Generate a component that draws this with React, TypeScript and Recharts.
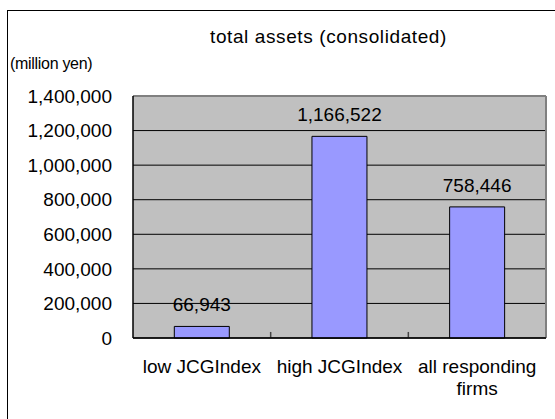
import React from "react";
import { BarChart, Bar, XAxis, YAxis, CartesianGrid, LabelList, ReferenceLine } from "recharts";

const categories = ["low JCGIndex", "high JCGIndex", "all responding firms"];
const totalAssets = [66943, 1166522, 758446];
const yTicks = [0, 200000, 400000, 600000, 800000, 1000000, 1200000, 1400000];

const data = categories.map((name, i) => ({ name, value: totalAssets[i] }));

const FONT = "'Liberation Sans', Arial, sans-serif";
const fmt = (v: any) => Number(v).toLocaleString("en-US");

// greedy word wrap by character count
const wrap = (s: string, max: number) => {
  const lines: string[] = [];
  let cur = "";
  s.split(" ").forEach((w) => {
    const next = cur ? cur + " " + w : w;
    if (next.length > max && cur) {
      lines.push(cur);
      cur = w;
    } else {
      cur = next;
    }
  });
  if (cur) lines.push(cur);
  return lines;
};

const CategoryTick = (props: any) => {
  const { x, y, payload } = props;
  const lines = wrap(String(payload.value), 15);
  return (
    <text x={x} y={y + 35} textAnchor="middle" fontSize={19} fontFamily={FONT} fill="#000">
      {lines.map((l, i) => (
        <tspan key={i} x={x} dy={i === 0 ? 0 : 22}>
          {l}
        </tspan>
      ))}
    </text>
  );
};

const App: React.FC = () => {
  const last = categories[categories.length - 1];
  return (
    <div style={{ position: "relative", width: 555, height: 419, overflow: "hidden", background: "#fff", fontFamily: FONT }}>
      <style>{"body{margin:0;overflow:hidden}"}</style>
      <div
        style={{
          position: "absolute",
          left: 7,
          top: 10,
          width: 600,
          height: 500,
          border: "1px solid #000",
        }}
      />
      <div style={{ position: "absolute", left: 0, width: 657, top: 26, textAlign: "center", fontSize: 19, letterSpacing: 0.6, color: "#000" }}>
        total assets (consolidated)
      </div>
      <div style={{ position: "absolute", left: 10, top: 55, fontSize: 16, letterSpacing: -0.3, color: "#000" }}>
        (million yen)
      </div>
      <div style={{ position: "absolute", left: 0, top: 0 }}>
        <BarChart
          width={555}
          height={419}
          data={data}
          margin={{ top: 96, right: 9, bottom: 0, left: 0 }}
          barCategoryGap="30%"
        >
          <CartesianGrid vertical={false} fill="#C0C0C0" stroke="#000" strokeOpacity={1} />
          <XAxis
            dataKey="name"
            height={81}
            tickLine={false}
            tickSize={0}
            tickMargin={0}
            axisLine={{ stroke: "#000", strokeWidth: 1.5 }}
            tick={<CategoryTick />}
            interval={0}
          />
          <YAxis
            width={133}
            domain={[0, 1400000]}
            ticks={yTicks}
            tickFormatter={fmt}
            tickLine={false}
            tickSize={0}
            tickMargin={21}
            axisLine={{ stroke: "#000", strokeWidth: 1.5 }}
            tick={{ fill: "#000", fontSize: 19, fontFamily: FONT }}
            interval={0}
          />
          <ReferenceLine y={1400000} stroke="#808080" strokeWidth={2} />
          <ReferenceLine x={last} position="end" stroke="#808080" strokeWidth={2} />
          {categories.slice(1).map((c) => (
            <ReferenceLine
              key={c}
              position="start"
              segment={[{ x: c, y: 0 }, { x: c, y: 35000 }]}
              stroke="#444"
              strokeWidth={1.5}
            />
          ))}
          <Bar dataKey="value" fill="#9999FF" stroke="#000" strokeWidth={1} isAnimationActive={false}>
            <LabelList dataKey="value" position="top" offset={15} formatter={fmt} fill="#000" fontSize={19} fontFamily={FONT} />
          </Bar>
        </BarChart>
      </div>
    </div>
  );
};

export default App;
